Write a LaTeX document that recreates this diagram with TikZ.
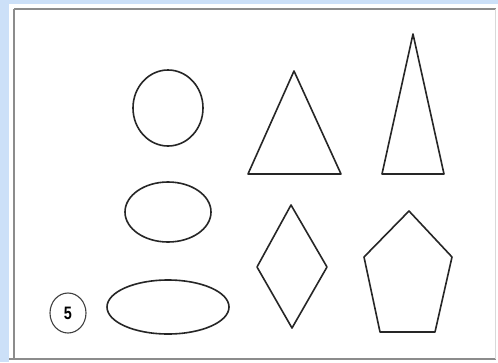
\documentclass[tikz,border=0pt]{standalone}
\usepackage{fontspec}
\setmainfont{Liberation Sans}
\definecolor{bgblue}{RGB}{204,224,248}
\begin{document}
\begin{tikzpicture}[x=1pt,y=-1pt,
  outl/.style={draw=black!85,line width=1.6pt,line join=round},
  panelline/.style={draw=black!45,line width=1.3pt}]
\useasboundingbox (0,0) rectangle (498,362);
\fill[bgblue] (0,0) rectangle (498,362);
\fill[white] (9,4) rectangle (498,362);
\draw[panelline] (14,9) -- (496,9);
\draw[panelline] (14,9) -- (14,360);
\draw[panelline] (9,359) -- (496,359);
\draw[draw=black!15,line width=0.8pt] (495,9) -- (495,359);
% circle and ellipses
\draw[outl] (168,108) ellipse [x radius=35, y radius=38];
\draw[outl] (168,212) ellipse [x radius=43, y radius=30];
\draw[outl] (168,307) ellipse [x radius=61, y radius=27];
% triangles
\draw[outl] (294,71) -- (341,174) -- (248,174) -- cycle;
\draw[outl] (413,34) -- (444,174) -- (382,174) -- cycle;
% diamond
\draw[outl] (291,205) -- (327,267) -- (292,328) -- (257,267) -- cycle;
% pentagon
\draw[outl] (409,211) -- (452,257) -- (435,332) -- (380,332) -- (364,257) -- cycle;
% label
\draw[draw=black!75,line width=1.1pt] (68,313) ellipse [x radius=18, y radius=20];
\node[font=\bfseries\fontsize{18}{18}\selectfont,text=black,xscale=0.8] (five) at (68,313) {5};
\end{tikzpicture}
\end{document}
